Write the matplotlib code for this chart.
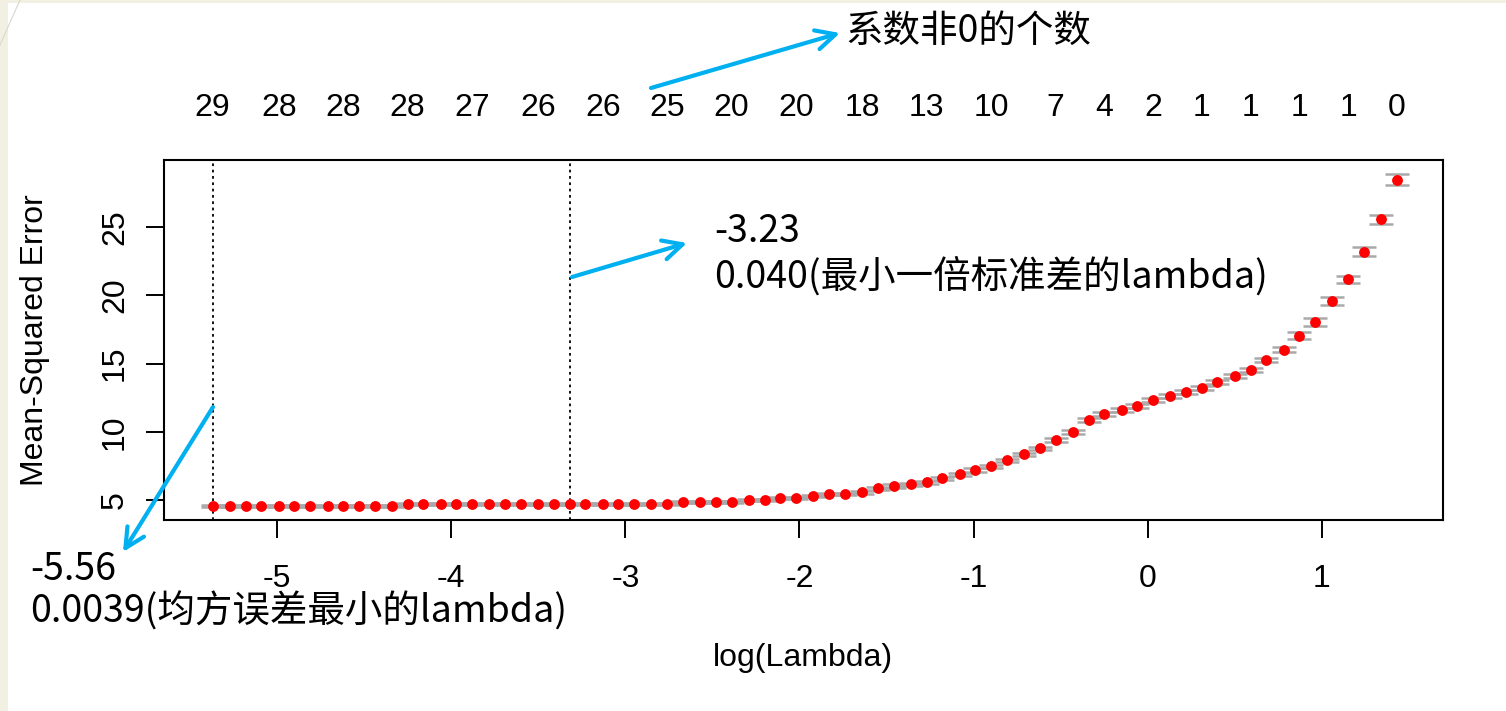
import matplotlib.pyplot as plt
from matplotlib.patches import Rectangle
from matplotlib.lines import Line2D

# log(lambda) of each cross-validated model
log_lambda = [
    -5.37, -5.27, -5.18, -5.09, -4.99, -4.90, -4.81, -4.71, -4.62, -4.53,
    -4.44, -4.34, -4.25, -4.16, -4.06, -3.97, -3.88, -3.78, -3.69, -3.60,
    -3.50, -3.41, -3.32, -3.23, -3.13, -3.04, -2.95, -2.85, -2.76, -2.67,
    -2.57, -2.48, -2.39, -2.29, -2.20, -2.11, -2.02, -1.92, -1.83, -1.74,
    -1.64, -1.55, -1.46, -1.36, -1.27, -1.18, -1.08, -0.99, -0.90, -0.81,
    -0.71, -0.62, -0.53, -0.43, -0.34, -0.25, -0.15, -0.06, 0.03, 0.13,
    0.22, 0.31, 0.40, 0.50, 0.59, 0.68, 0.78, 0.87, 0.96, 1.06,
    1.15, 1.24, 1.34, 1.43,
]
# mean cross-validated error
mse = [
    4.56, 4.56, 4.56, 4.56, 4.56, 4.56, 4.56, 4.56, 4.56, 4.56,
    4.56, 4.56, 4.71, 4.71, 4.71, 4.71, 4.71, 4.71, 4.71, 4.71,
    4.71, 4.71, 4.71, 4.71, 4.71, 4.71, 4.71, 4.71, 4.71, 4.88,
    4.87, 4.86, 4.86, 4.99, 5.00, 5.12, 5.13, 5.30, 5.42, 5.45,
    5.56, 5.85, 6.03, 6.15, 6.30, 6.59, 6.88, 7.20, 7.47, 7.91,
    8.35, 8.79, 9.40, 9.98, 10.86, 11.30, 11.59, 11.90, 12.35, 12.62,
    12.91, 13.21, 13.67, 14.11, 14.52, 15.26, 16.02, 17.05, 18.04, 19.58,
    21.17, 23.22, 25.57, 28.49,
]
# standard error (half height of the grey bars)
mse_se = [
    0.08, 0.08, 0.08, 0.08, 0.08, 0.08, 0.08, 0.08, 0.08, 0.08,
    0.08, 0.08, 0.08, 0.08, 0.08, 0.08, 0.08, 0.08, 0.08, 0.08,
    0.08, 0.08, 0.08, 0.08, 0.08, 0.08, 0.08, 0.08, 0.08, 0.08,
    0.08, 0.08, 0.08, 0.08, 0.08, 0.08, 0.08, 0.08, 0.08, 0.08,
    0.12, 0.12, 0.12, 0.12, 0.12, 0.12, 0.12, 0.12, 0.12, 0.12,
    0.12, 0.12, 0.12, 0.12, 0.15, 0.15, 0.15, 0.15, 0.15, 0.15,
    0.15, 0.15, 0.15, 0.15, 0.15, 0.15, 0.20, 0.24, 0.28, 0.30,
    0.26, 0.32, 0.32, 0.38,
]

# number of non-zero coefficients shown on the top axis
top_idx = [0, 4, 8, 12, 16, 20, 24, 28, 32, 36, 40, 44, 48, 52, 55, 58, 61, 64, 67, 70, 73]
nonzero = [29, 28, 28, 28, 27, 26, 26, 25, 20, 20, 18, 13, 10, 7, 4, 2, 1, 1, 1, 1, 0]

x_ticks = [-5, -4, -3, -2, -1, 0, 1]
y_ticks = [5, 10, 15, 20, 25]
lambda_min_log = -5.37
lambda_1se_log = -3.32

W, H = 1506, 711
blue = '#00B0F0'
cjk = ['Noto Sans CJK SC', 'DejaVu Sans']

plt.rcParams['font.family'] = ['Liberation Sans', 'DejaVu Sans']
plt.rcParams['axes.unicode_minus'] = False

fig = plt.figure(figsize=(W / 100, H / 100), dpi=100)
fig.patch.set_facecolor('white')
# slide background strips
fig.patches.append(Rectangle((0, 0), 8 / W, 1, transform=fig.transFigure,
                             facecolor='#F1F0E3', edgecolor='none', zorder=-5))
fig.patches.append(Rectangle((0, 1 - 3 / H), 1, 3 / H, transform=fig.transFigure,
                             facecolor='#F1F0E3', edgecolor='none', zorder=-5))
fig.add_artist(Line2D([0, 20 / W], [1 - 45 / H, 1], transform=fig.transFigure,
                      color='#D8D8CC', lw=0.8))

ax = fig.add_axes([164 / W, (H - 520) / H, (1443 - 164) / W, 360 / H])
ax.errorbar(log_lambda, mse, yerr=mse_se, fmt='none', ecolor='darkgrey',
            elinewidth=1.8, capsize=8.5, capthick=1.8, zorder=2)
ax.plot(log_lambda, mse, 'o', color='red', markersize=7.8, markeredgewidth=0, zorder=3)
ax.axvline(lambda_min_log, color='black', linestyle=(0, (1.5, 2.0)), lw=1.3, zorder=1)
ax.axvline(lambda_1se_log, color='black', linestyle=(0, (1.5, 2.0)), lw=1.3, zorder=1)

ax.set_xlim(-5.649, 1.695)
ax.set_ylim(3.535, 29.93)
ax.set_xticks(x_ticks)
ax.set_yticks(y_ticks)
ax.tick_params(axis='both', labelsize=23, length=13, width=1.4, color='black')
ax.tick_params(axis='x', pad=19)
ax.tick_params(axis='y', pad=11.5)
for lab in ax.get_yticklabels():
    lab.set_rotation(90)
    lab.set_va('center')
for s in ax.spines.values():
    s.set_linewidth(1.5)

ax_top = ax.twiny()
ax_top.set_xlim(ax.get_xlim())
ax_top.set_xticks([log_lambda[i] for i in top_idx])
ax_top.set_xticklabels([str(n) for n in nonzero])
ax_top.tick_params(axis='x', length=0, labelsize=23, pad=27)
for s in ax_top.spines.values():
    s.set_visible(False)

fig.text(35 / W, 1 - 340 / H, 'Mean-Squared Error', rotation=90, fontsize=23,
         ha='center', va='center')
fig.text(803 / W, 1 - 658 / H, 'log(Lambda)', fontsize=23, ha='center', va='center')

# annotations
fig.text(845 / W, 1 - 31 / H, '系数非0的个数', fontsize=27, family=cjk,
         ha='left', va='center')
fig.text(714 / W, 1 - 232 / H, '-3.23', fontsize=27, family=cjk, ha='left', va='center')
fig.text(714 / W, 1 - 277 / H, '0.040(最小一倍标准差的lambda)', fontsize=27, family=cjk,
         ha='left', va='center')
fig.text(30 / W, 1 - 569 / H, '-5.56', fontsize=27, family=cjk, ha='left', va='center')
fig.text(30 / W, 1 - 612 / H, '0.0039(均方误差最小的lambda)', fontsize=27, family=cjk,
         ha='left', va='center')

arrow_style = dict(arrowstyle='->,head_length=0.7,head_width=0.35', color=blue, lw=3,
                   mutation_scale=20, shrinkA=0, shrinkB=0)
for tail, head in [((651, 88), (840, 33)), ((572, 277), (687, 243)), ((213, 407), (123, 552))]:
    ax.annotate('', xy=(head[0], H - head[1]), xytext=(tail[0], H - tail[1]),
                xycoords='figure pixels', textcoords='figure pixels',
                arrowprops=arrow_style, annotation_clip=False)

fig.savefig('out.png', dpi=100)
